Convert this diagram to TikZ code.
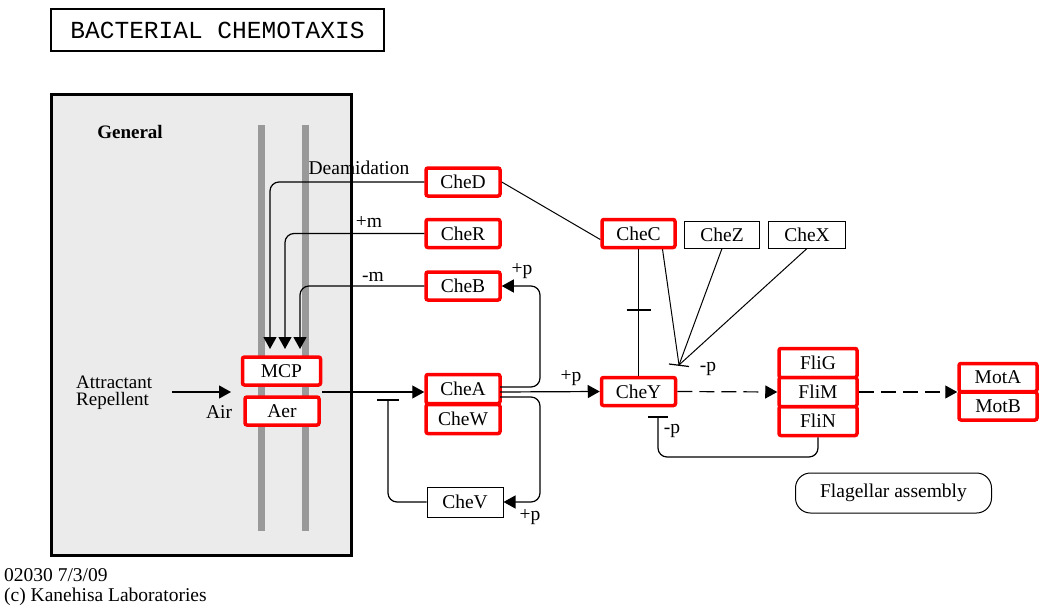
\documentclass[tikz,border=0pt]{standalone}
\usepackage{fontspec}
\setmainfont{Liberation Serif}
\newfontfamily\titlefont{Liberation Mono}
\usetikzlibrary{arrows.meta,calc}
\begin{document}
\begin{tikzpicture}[x=1pt,y=-1pt,
  every node/.style={font=\fontsize{19.5}{21}\selectfont},
  gene/.style={draw=red, line width=3.5pt, rounded corners=2pt, fill=white,
    minimum width=74pt, minimum height=28pt, inner sep=0pt},
  plainbox/.style={draw=black, line width=1pt, fill=white,
    minimum width=75pt, minimum height=27pt, inner sep=0pt},
  lbl/.style={inner sep=0pt},
  ln/.style={line width=1.2pt},
  act/.style={ln, -{Triangle[length=12pt,width=13pt]}},
  dsh/.style={act, dash pattern=on 15pt off 7pt},
  bar/.style={fill=black!40, draw=none},
]
\useasboundingbox (0,0) rectangle (1042,610);

% title
\node[draw, line width=2.5pt, minimum width=333pt, minimum height=42pt, inner sep=0pt]
  (title) at (217.5,30) {\titlefont\fontsize{24.5}{26}\selectfont BACTERIAL CHEMOTAXIS};

% general membrane box
\draw[line width=3pt, fill=black!8] (51.5,94.5) rectangle (351,555) ;
\node[lbl, font=\bfseries\fontsize{19}{21}\selectfont] (general) at (130,132) {General};
\fill[bar] (258,125) rectangle (265,531);
\fill[bar] (302,125) rectangle (309,531);

% receptor nodes
\node[gene, minimum width=78pt] (MCP) at (281.5,371) {MCP};
\node[gene, minimum width=74pt] (Aer) at (282,411) {Aer};
\node[lbl, anchor=base west, font=\fontsize{19}{20}\selectfont] (attr) at (76,388) {Attractant};
\node[lbl, anchor=base west, font=\fontsize{19}{20}\selectfont] (repe) at (76,405) {Repellent};
\node[lbl] (air) at (219,412) {Air};
\coordinate (inA) at (172,392);
\coordinate (inB) at (231,392);
\draw[act] (inA) -- (inB);

% methylation genes
\node[gene] (CheD) at (463,182) {CheD};
\node[gene] (CheR) at (463,233.5) {CheR};
\node[gene] (CheB) at (463,286) {CheB};
\node[gene, minimum height=29pt] (CheA) at (463,389) {CheA};
\node[gene, minimum height=29pt] (CheW) at (463,419) {CheW};
\node[plainbox, minimum width=76pt, minimum height=30pt] (CheV) at (465,502) {CheV};

\coordinate (m1) at (270,349);
\coordinate (m2) at (285,349);
\coordinate (m3) at (300,349);
\draw[act, rounded corners=9pt] (CheD.west) -| (m1);
\draw[act, rounded corners=9pt] (CheR.west) -| (m2);
\draw[act, rounded corners=9pt] (CheB.west) -| (m3);

\node[lbl] (deam) at (359,168) {Deamidation};
\node[lbl] (pm) at (369,222) {+m};
\node[lbl] (mm) at (373,277) {-m};

% MCP -> CheA
\coordinate (rc) at (322,392);
\draw[act] (rc) -- (rc -| CheA.west);

% CheA -> CheB, CheV
\coordinate (a1) at (500,387);
\coordinate (a2) at (500,397);
\draw[act, rounded corners=9pt] (a1) -- (540,387) |- (CheB.east);
\draw[act, rounded corners=9pt] (a2) -- (540,397) |- (CheV.east);
\node[lbl] (pB) at (522,271) {+p};
\node[lbl] (pV) at (530,517) {+p};

% CheV -| CheA
\coordinate (tv) at (388,400);
\draw[ln, rounded corners=9pt] (CheV.west) -| (tv);
\draw[ln] ($(tv)+(-11,0)$) -- ($(tv)+(11,0)$);

% CheY
\node[gene] (CheY) at (638.5,391.5) {CheY};
\coordinate (a3) at (500,392);
\draw[act] (a3) -- (CheY.west);
\node[lbl] (pY) at (571,378) {+p};

% CheC, CheZ, CheX
\node[gene, minimum width=73pt] (CheC) at (638.5,233.5) {CheC};
\node[plainbox] (CheZ) at (722,234.5) {CheZ};
\node[plainbox, minimum width=77pt] (CheX) at (807,234.5) {CheX};
\draw[line width=1pt] (CheD.east) -- ($(CheC.west)+(0,6)$);

\draw[ln] (CheC.south) -- (CheY.north);
\coordinate (cb) at (638.5,310);
\draw[ln] ($(cb)+(-12,0)$) -- ($(cb)+(12,0)$);

\coordinate (conv) at (679,365);
\draw[line width=1pt] ($(CheC.south)+(24,0)$) -- (conv);
\draw[line width=1pt] (CheZ.south) -- (conv);
\draw[line width=1pt] (CheX.south) -- (conv);
\draw[ln] ($(conv)+(-10,-1)$) -- ($(conv)+(10,1.5)$);
\node[lbl] (pZ) at (708,369) {-p};

% Fli complex
\node[gene, minimum width=78pt, minimum height=29pt] (FliG) at (818,363) {FliG};
\node[gene, minimum width=78pt, minimum height=29pt] (FliN) at (818,421) {FliN};
\node[gene, minimum width=78pt, minimum height=29pt] (FliM) at (818,392) {FliM};
\draw[dsh] (CheY.east) -- (FliM.west);

% Mot complex
\node[gene, minimum width=78pt] (MotA) at (998,377.5) {MotA};
\node[gene, minimum width=78pt] (MotB) at (998,406) {MotB};
\draw[dsh] (FliM.east) -- (FliM.east -| MotA.west);

% FliN -| CheY
\coordinate (ty) at (658,417);
\draw[ln, rounded corners=9pt] (FliN.south) |- (658,457) -- (ty);
\draw[ln] ($(ty)+(-10,0)$) -- ($(ty)+(10,0)$);
\node[lbl] (pN) at (672,431) {-p};

% Flagellar assembly
\node[draw, line width=1pt, rounded corners=15pt, minimum width=196pt, minimum height=40pt, inner sep=0pt]
  (flag) at (893.5,493) {Flagellar assembly};

% footer
\node[lbl, anchor=west, align=left, font=\fontsize{19.5}{19.5}\selectfont] (foot) at (4,587)
  {02030 7/3/09\\(c) Kanehisa Laboratories};
\end{tikzpicture}
\end{document}
